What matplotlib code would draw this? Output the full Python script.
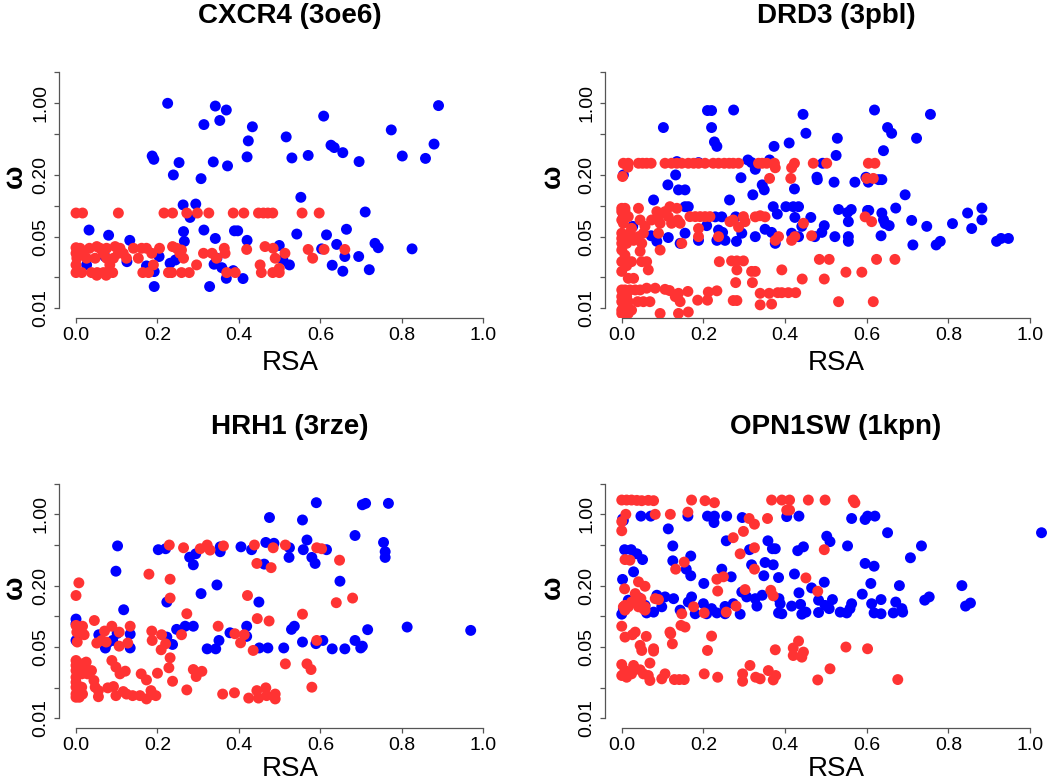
import matplotlib
matplotlib.use("Agg")
import matplotlib.pyplot as plt

plt.rcParams['font.family'] = ['Liberation Sans', 'DejaVu Sans']

titles = ["CXCR4 (3oe6)", "DRD3 (3pbl)", "HRH1 (3rze)", "OPN1SW (1kpn)"]
x_ticks = [0.0, 0.2, 0.4, 0.6, 0.8, 1.0]
x_tick_labels = ["0.0", "0.2", "0.4", "0.6", "0.8", "1.0"]
y_ticks = [0.01, 0.02, 0.05, 0.1, 0.2, 0.5, 1.0, 2.0]
y_tick_labels = ["0.01", "", "0.05", "", "0.20", "", "1.00", ""]
x_label = "RSA"
y_label = "ω"

# (RSA, omega) pairs per panel and group
cxcr4_blue = [(0.225, 1.0), (0.342, 0.94), (0.369, 0.86), (0.890, 0.95), (0.608, 0.75), (0.314, 0.62),
              (0.353, 0.68), (0.433, 0.59), (0.774, 0.55), (0.516, 0.47), (0.423, 0.43), (0.626, 0.39),
              (0.634, 0.37), (0.879, 0.40), (0.655, 0.33), (0.187, 0.306), (0.191, 0.284), (0.420, 0.30),
              (0.530, 0.293), (0.570, 0.31), (0.801, 0.306), (0.858, 0.29), (0.695, 0.27), (0.253, 0.264),
              (0.337, 0.268), (0.372, 0.245), (0.239, 0.20), (0.307, 0.184), (0.552, 0.121), (0.263, 0.102),
              (0.294, 0.104), (0.280, 0.077), (0.710, 0.087), (0.032, 0.058), (0.080, 0.0516), (0.264, 0.056),
              (0.314, 0.058), (0.389, 0.057), (0.397, 0.057), (0.664, 0.059), (0.542, 0.053), (0.615, 0.052),
              (0.132, 0.046), (0.266, 0.045), (0.342, 0.048), (0.420, 0.046), (0.499, 0.041), (0.640, 0.042),
              (0.734, 0.043), (0.742, 0.039), (0.825, 0.038), (0.603, 0.038), (0.660, 0.032), (0.694, 0.032),
              (0.026, 0.0265), (0.125, 0.0285), (0.204, 0.032), (0.231, 0.0275), (0.244, 0.0296), (0.173, 0.0259),
              (0.192, 0.0228), (0.339, 0.0269), (0.346, 0.0308), (0.358, 0.0249), (0.508, 0.0296), (0.524, 0.0265),
              (0.629, 0.0263), (0.655, 0.023), (0.720, 0.0238), (0.386, 0.0233), (0.369, 0.0196), (0.410, 0.0195),
              (0.192, 0.0163), (0.328, 0.0163), (0.071, 0.032)]
cxcr4_red = [(0.0, 0.085), (0.016, 0.085), (0.104, 0.085), (0.216, 0.085), (0.237, 0.085), (0.272, 0.085),
             (0.298, 0.085), (0.326, 0.085), (0.386, 0.085), (0.412, 0.085), (0.448, 0.085), (0.460, 0.085),
             (0.471, 0.085), (0.483, 0.085), (0.555, 0.085), (0.597, 0.085),
             (0.0, 0.039), (0.010, 0.0385), (0.033, 0.0385), (0.051, 0.040), (0.059, 0.0385), (0.075, 0.0385),
             (0.096, 0.040), (0.108, 0.0385), (0.141, 0.0385), (0.161, 0.0385), (0.173, 0.0385), (0.205, 0.0385),
             (0.237, 0.040), (0.247, 0.0385), (0.259, 0.037), (0.364, 0.0385), (0.419, 0.0375), (0.464, 0.040),
             (0.484, 0.0385), (0.570, 0.0375), (0.609, 0.0375), (0.660, 0.0375),
             (0.0, 0.0344), (0.018, 0.0344), (0.067, 0.0344), (0.104, 0.0344), (0.116, 0.0344), (0.186, 0.0344),
             (0.255, 0.0344), (0.313, 0.0344), (0.334, 0.0344), (0.366, 0.0344), (0.513, 0.0344),
             (0.002, 0.0308), (0.026, 0.0308), (0.047, 0.0308), (0.075, 0.0308), (0.092, 0.0308), (0.124, 0.0308),
             (0.153, 0.0308), (0.264, 0.0308), (0.345, 0.0308), (0.489, 0.0308), (0.581, 0.0308),
             (0.0, 0.0265), (0.083, 0.0265), (0.190, 0.0265), (0.452, 0.0265), (0.296, 0.0265),
             (0.0, 0.0223), (0.014, 0.0223), (0.038, 0.0223), (0.052, 0.0223), (0.067, 0.0223), (0.075, 0.0223),
             (0.090, 0.0223), (0.164, 0.0223), (0.178, 0.0223), (0.227, 0.0223), (0.235, 0.0223), (0.259, 0.0223),
             (0.278, 0.0223), (0.370, 0.0223), (0.391, 0.0223), (0.455, 0.0223), (0.483, 0.0223), (0.499, 0.0223),
             (0.051, 0.021), (0.074, 0.021), (0.499, 0.0245)]

drd3_blue = [(0.210, 0.85), (0.220, 0.85), (0.274, 0.86), (0.444, 0.78), (0.619, 0.86), (0.756, 0.78),
             (0.102, 0.58), (0.220, 0.58), (0.451, 0.51), (0.651, 0.58), (0.661, 0.51), (0.722, 0.456),
             (0.528, 0.456), (0.227, 0.42), (0.233, 0.38), (0.373, 0.38), (0.410, 0.41), (0.525, 0.31),
             (0.641, 0.345), (0.309, 0.28), (0.318, 0.264), (0.327, 0.227), (0.362, 0.28), (0.492, 0.26),
             (0.135, 0.27), (0.188, 0.264), (0.004, 0.20), (0.132, 0.20), (0.113, 0.16), (0.292, 0.188),
             (0.139, 0.143), (0.155, 0.143), (0.478, 0.19), (0.479, 0.18), (0.520, 0.17), (0.571, 0.17),
             (0.598, 0.19), (0.604, 0.17), (0.629, 0.18), (0.637, 0.18), (0.344, 0.16), (0.349, 0.143),
             (0.321, 0.128), (0.423, 0.146), (0.694, 0.128), (0.264, 0.114), (0.078, 0.114), (0.155, 0.098),
             (0.163, 0.098), (0.371, 0.098), (0.402, 0.098), (0.420, 0.098), (0.433, 0.098), (0.381, 0.083),
             (0.531, 0.092), (0.562, 0.092), (0.553, 0.086), (0.671, 0.095), (0.602, 0.09), (0.605, 0.09),
             (0.637, 0.085), (0.641, 0.073), (0.645, 0.067), (0.847, 0.085), (0.857, 0.06), (0.882, 0.073),
             (0.882, 0.095), (0.810, 0.067), (0.710, 0.072), (0.747, 0.063), (0.655, 0.064), (0.463, 0.077),
             (0.424, 0.077), (0.496, 0.064), (0.555, 0.07), (0.229, 0.078), (0.245, 0.078), (0.279, 0.078),
             (0.004, 0.078), (0.027, 0.063), (0.072, 0.051), (0.086, 0.045), (0.114, 0.049),
             (0.143, 0.043), (0.155, 0.054), (0.188, 0.046), (0.208, 0.064), (0.237, 0.058), (0.247, 0.055),
             (0.233, 0.046), (0.253, 0.046), (0.281, 0.045), (0.294, 0.054), (0.327, 0.05), (0.351, 0.059),
             (0.367, 0.055), (0.376, 0.043), (0.416, 0.054), (0.433, 0.05), (0.441, 0.063), (0.473, 0.05),
             (0.490, 0.055), (0.522, 0.05), (0.555, 0.05), (0.555, 0.045), (0.635, 0.051), (0.713, 0.0415),
             (0.770, 0.0415), (0.780, 0.045), (0.918, 0.045), (0.929, 0.048), (0.947, 0.048)]
drd3_red = [(0.004, 0.26), (0.016, 0.26), (0.041, 0.26), (0.051, 0.26), (0.061, 0.26), (0.072, 0.26),
            (0.106, 0.26), (0.122, 0.26), (0.135, 0.26), (0.147, 0.26), (0.163, 0.26), (0.176, 0.26),
            (0.188, 0.26), (0.204, 0.26), (0.224, 0.26), (0.237, 0.26), (0.251, 0.26), (0.263, 0.26),
            (0.273, 0.26), (0.286, 0.26), (0.335, 0.26), (0.344, 0.26), (0.355, 0.26), (0.374, 0.26),
            (0.423, 0.26), (0.469, 0.26), (0.502, 0.26), (0.604, 0.26), (0.620, 0.26),
            (0.015, 0.238), (0.376, 0.235), (0.416, 0.235),
            (0.002, 0.193), (0.362, 0.185), (0.414, 0.185), (0.600, 0.185), (0.616, 0.185),
            (0.0, 0.0945), (0.008, 0.0945), (0.0, 0.088), (0.008, 0.088), (0.0, 0.0727), (0.004, 0.0675),
            (0.016, 0.0784), (0.024, 0.0603), (0.041, 0.0945), (0.045, 0.0727), (0.057, 0.063), (0.073, 0.0727),
            (0.086, 0.0877), (0.090, 0.0784), (0.094, 0.0675), (0.106, 0.0877), (0.114, 0.0784), (0.118, 0.098),
            (0.122, 0.0675), (0.135, 0.0945), (0.137, 0.0727), (0.143, 0.0675),
            (0.167, 0.0784), (0.180, 0.0784), (0.192, 0.0784), (0.204, 0.0784), (0.216, 0.0784),
            (0.265, 0.070), (0.273, 0.0727), (0.286, 0.062), (0.298, 0.0784), (0.302, 0.070),
            (0.327, 0.078), (0.339, 0.080), (0.351, 0.078), (0.445, 0.0675), (0.596, 0.078), (0.612, 0.070),
            (0.0, 0.054), (0.0, 0.048), (0.0, 0.043), (0.008, 0.05), (0.012, 0.043), (0.020, 0.054),
            (0.029, 0.046), (0.041, 0.05), (0.053, 0.054), (0.049, 0.043), (0.090, 0.054), (0.188, 0.06),
            (0.188, 0.05), (0.147, 0.043), (0.237, 0.05), (0.376, 0.046), (0.384, 0.05), (0.416, 0.046),
            (0.424, 0.05), (0.465, 0.051), (0.094, 0.037),
            (0.0, 0.037), (0.008, 0.033), (0.0, 0.0285), (0.012, 0.026), (0.0, 0.0229), (0.024, 0.0285),
            (0.016, 0.0196), (0.029, 0.0196), (0.045, 0.036), (0.049, 0.0285), (0.061, 0.0285), (0.065, 0.0237),
            (0.239, 0.0285), (0.269, 0.029), (0.282, 0.029), (0.298, 0.029), (0.282, 0.0237), (0.318, 0.0229),
            (0.327, 0.0229), (0.392, 0.0237), (0.484, 0.030), (0.508, 0.030), (0.624, 0.030), (0.669, 0.030),
            (0.549, 0.0225), (0.588, 0.0225), (0.442, 0.0193), (0.496, 0.0193), (0.279, 0.0178), (0.320, 0.0178),
            (0.0, 0.0151), (0.008, 0.0151), (0.020, 0.0151), (0.033, 0.0151), (0.045, 0.0151), (0.0, 0.013),
            (0.012, 0.013), (0.0, 0.0116), (0.016, 0.0116), (0.0, 0.0096), (0.008, 0.0096), (0.024, 0.0096),
            (0.0, 0.0089), (0.016, 0.0089), (0.039, 0.0116), (0.053, 0.0116), (0.069, 0.0116), (0.061, 0.0157),
            (0.082, 0.0157), (0.106, 0.0153), (0.117, 0.0149), (0.131, 0.013), (0.139, 0.014), (0.143, 0.0116),
            (0.162, 0.0146), (0.139, 0.0089), (0.163, 0.0092), (0.094, 0.0089), (0.186, 0.012), (0.210, 0.012),
            (0.212, 0.0144), (0.233, 0.0148), (0.273, 0.0119), (0.282, 0.0119), (0.339, 0.014), (0.339, 0.0108),
            (0.361, 0.014), (0.367, 0.011), (0.382, 0.0142), (0.392, 0.0142), (0.408, 0.0142), (0.426, 0.0142),
            (0.531, 0.0116), (0.616, 0.0116)]

hrh1_blue = [(0.590, 1.30), (0.703, 1.24), (0.711, 1.28), (0.767, 1.28), (0.475, 0.93), (0.556, 0.88),
             (0.685, 0.62), (0.567, 0.56), (0.755, 0.53), (0.759, 0.43), (0.759, 0.378), (0.102, 0.49),
             (0.202, 0.45), (0.220, 0.46), (0.279, 0.38), (0.294, 0.41), (0.288, 0.32), (0.354, 0.48),
             (0.354, 0.43), (0.405, 0.48), (0.431, 0.45), (0.466, 0.53), (0.486, 0.52), (0.524, 0.47),
             (0.523, 0.378), (0.558, 0.45), (0.579, 0.378), (0.587, 0.33), (0.615, 0.45), (0.462, 0.325),
             (0.098, 0.277), (0.346, 0.203), (0.648, 0.221), (0.307, 0.167), (0.223, 0.138), (0.449, 0.138),
             (0.117, 0.116), (0.0, 0.094), (0.0, 0.085), (0.268, 0.080), (0.288, 0.080), (0.247, 0.0745),
             (0.419, 0.080), (0.536, 0.080), (0.529, 0.0745), (0.716, 0.074), (0.813, 0.0785), (0.969, 0.0728),
             (0.378, 0.069), (0.419, 0.0636), (0.056, 0.066), (0.101, 0.068), (0.133, 0.067), (0.0, 0.058),
             (0.090, 0.058), (0.223, 0.0626), (0.237, 0.053), (0.072, 0.0489), (0.077, 0.0547), (0.133, 0.049),
             (0.322, 0.048), (0.343, 0.048), (0.351, 0.058), (0.450, 0.049), (0.471, 0.049), (0.510, 0.049),
             (0.556, 0.056), (0.589, 0.054), (0.606, 0.058), (0.629, 0.048), (0.660, 0.048), (0.685, 0.058),
             (0.699, 0.049), (0.703, 0.051)]
hrh1_red = [(0.007, 0.213), (0.0, 0.16), (0.179, 0.259), (0.231, 0.231), (0.231, 0.151), (0.229, 0.50),
            (0.264, 0.47), (0.305, 0.46), (0.322, 0.50), (0.329, 0.446), (0.362, 0.49), (0.438, 0.50),
            (0.484, 0.47), (0.514, 0.50), (0.591, 0.47), (0.603, 0.46), (0.647, 0.355), (0.444, 0.33),
            (0.479, 0.30), (0.421, 0.16), (0.639, 0.136), (0.679, 0.151), (0.556, 0.105), (0.272, 0.106),
            (0.445, 0.095), (0.474, 0.09), (0.349, 0.080), (0.045, 0.091),
            (0.0, 0.0815), (0.010, 0.0785), (0.016, 0.080), (0.002, 0.070), (0.003, 0.056), (0.020, 0.066),
            (0.051, 0.0547), (0.063, 0.058), (0.070, 0.0717), (0.088, 0.080), (0.106, 0.051), (0.106, 0.070),
            (0.127, 0.0547), (0.133, 0.080), (0.074, 0.056), (0.186, 0.0717), (0.187, 0.058), (0.210, 0.066),
            (0.209, 0.047), (0.220, 0.0538), (0.259, 0.066), (0.390, 0.0675), (0.404, 0.055), (0.413, 0.066),
            (0.435, 0.0463), (0.591, 0.058),
            (0.0, 0.0369), (0.0, 0.033), (0.0, 0.0294), (0.0, 0.0253), (0.0, 0.0226), (0.0, 0.0202),
            (0.0, 0.0173), (0.0, 0.0161), (0.014, 0.0342), (0.014, 0.0273), (0.014, 0.0202), (0.025, 0.0356),
            (0.026, 0.0294), (0.028, 0.0273), (0.038, 0.0294), (0.044, 0.0235), (0.047, 0.0202), (0.055, 0.0187),
            (0.055, 0.0163), (0.016, 0.0173), (0.008, 0.0161), (0.088, 0.0369), (0.098, 0.0318), (0.108, 0.0273),
            (0.121, 0.029), (0.078, 0.0199), (0.092, 0.0205), (0.098, 0.0167), (0.116, 0.0183), (0.124, 0.0173),
            (0.139, 0.0167), (0.157, 0.0167), (0.160, 0.0273), (0.173, 0.0155), (0.173, 0.0238), (0.184, 0.0187),
            (0.186, 0.0171), (0.196, 0.0167), (0.200, 0.0277), (0.231, 0.0392), (0.228, 0.0313), (0.237, 0.0231),
            (0.272, 0.019), (0.288, 0.0301), (0.295, 0.0257), (0.309, 0.0289), (0.360, 0.0173), (0.389, 0.0178),
            (0.424, 0.0158), (0.444, 0.0187), (0.448, 0.0158), (0.466, 0.0199), (0.468, 0.0167), (0.489, 0.0173),
            (0.489, 0.0155), (0.514, 0.0342), (0.567, 0.0342), (0.577, 0.0301), (0.579, 0.0202)]

opn1sw_blue = [(1.028, 0.66), (0.004, 0.87), (0.002, 0.90), (0.047, 0.96), (0.071, 0.96), (0.162, 0.96),
               (0.210, 0.96), (0.227, 0.96), (0.226, 0.83), (0.257, 0.96), (0.295, 0.93), (0.404, 0.95),
               (0.434, 0.96), (0.563, 0.91), (0.596, 0.89), (0.602, 0.96), (0.620, 0.96), (0.114, 0.72),
               (0.651, 0.66), (0.256, 0.55), (0.358, 0.55), (0.125, 0.49), (0.125, 0.35), (0.369, 0.46),
               (0.376, 0.46), (0.313, 0.45), (0.169, 0.39), (0.431, 0.44), (0.445, 0.48), (0.502, 0.61),
               (0.510, 0.54), (0.553, 0.49), (0.734, 0.49), (0.707, 0.375), (0.007, 0.45), (0.023, 0.45),
               (0.037, 0.41), (0.051, 0.36), (0.029, 0.273), (0.002, 0.23), (0.351, 0.337), (0.371, 0.32),
               (0.318, 0.32), (0.245, 0.29), (0.268, 0.244), (0.158, 0.29), (0.169, 0.25), (0.348, 0.25),
               (0.384, 0.24), (0.423, 0.26), (0.496, 0.216), (0.596, 0.33), (0.618, 0.31), (0.465, 0.19),
               (0.610, 0.21), (0.680, 0.20), (0.833, 0.20), (0.201, 0.21), (0.589, 0.165), (0.434, 0.17),
               (0.742, 0.144), (0.753, 0.155), (0.842, 0.126), (0.854, 0.135),
               (0.0, 0.105), (0.004, 0.119), (0.016, 0.144), (0.041, 0.153), (0.057, 0.128), (0.061, 0.108),
               (0.078, 0.110), (0.086, 0.161), (0.098, 0.124), (0.106, 0.155), (0.127, 0.149), (0.143, 0.115),
               (0.163, 0.138), (0.171, 0.155), (0.180, 0.106), (0.200, 0.133), (0.208, 0.106), (0.220, 0.119),
               (0.233, 0.108), (0.253, 0.125), (0.273, 0.133), (0.290, 0.105), (0.294, 0.173), (0.306, 0.155),
               (0.327, 0.149), (0.331, 0.126), (0.344, 0.161), (0.385, 0.149), (0.388, 0.133), (0.384, 0.108),
               (0.392, 0.106), (0.416, 0.126), (0.438, 0.131), (0.441, 0.105), (0.451, 0.110), (0.482, 0.144),
               (0.482, 0.109), (0.498, 0.128), (0.508, 0.119), (0.516, 0.146), (0.535, 0.110), (0.551, 0.108),
               (0.559, 0.119), (0.563, 0.133), (0.612, 0.133), (0.618, 0.108), (0.635, 0.146), (0.635, 0.106),
               (0.665, 0.108), (0.671, 0.138), (0.686, 0.119), (0.688, 0.110), (0.253, 0.106)]
opn1sw_red = [(0.0, 1.38), (0.012, 1.38), (0.024, 1.38), (0.037, 1.37), (0.049, 1.36), (0.065, 1.37),
              (0.078, 1.36), (0.171, 1.38), (0.204, 1.36), (0.227, 1.30), (0.367, 1.38), (0.392, 1.38),
              (0.411, 1.38), (0.457, 1.38), (0.498, 1.38), (0.567, 1.38), (0.571, 1.30),
              (0.010, 1.0), (0.0, 0.85), (0.0, 0.69), (0.082, 1.0), (0.119, 1.0), (0.162, 1.05),
              (0.404, 1.10), (0.411, 1.10), (0.312, 0.91), (0.325, 0.80), (0.357, 0.91), (0.273, 0.59),
              (0.298, 0.68), (0.290, 0.41), (0.325, 0.47), (0.496, 0.45), (0.008, 0.36), (0.020, 0.355),
              (0.153, 0.34), (0.132, 0.29), (0.325, 0.29), (0.041, 0.218), (0.057, 0.197), (0.233, 0.231),
              (0.249, 0.244), (0.451, 0.238), (0.480, 0.176), (0.235, 0.177), (0.302, 0.183), (0.365, 0.18),
              (0.371, 0.159), (0.007, 0.186), (0.008, 0.128), (0.082, 0.149), (0.090, 0.146), (0.033, 0.167),
              (0.047, 0.149), (0.038, 0.133), (0.057, 0.124), (0.057, 0.115), (0.004, 0.124), (0.008, 0.115),
              (0.016, 0.124), (0.024, 0.138), (0.041, 0.124), (0.053, 0.119), (0.147, 0.106), (0.176, 0.124),
              (0.202, 0.108), (0.256, 0.11), (0.280, 0.126),
              (0.0, 0.080), (0.008, 0.0626), (0.026, 0.066), (0.033, 0.070), (0.045, 0.0519), (0.049, 0.0463),
              (0.078, 0.0481), (0.078, 0.0456), (0.060, 0.0636), (0.118, 0.070), (0.120, 0.0675), (0.124, 0.0538),
              (0.145, 0.0815), (0.155, 0.0785), (0.220, 0.064), (0.210, 0.0463), (0.376, 0.047), (0.420, 0.0489),
              (0.433, 0.0572), (0.420, 0.0413), (0.441, 0.0398), (0.445, 0.0446), (0.549, 0.050), (0.602, 0.0481),
              (0.0, 0.0337), (0.008, 0.0294), (0.0, 0.0263), (0.012, 0.0253), (0.024, 0.0273), (0.029, 0.033),
              (0.045, 0.0299), (0.053, 0.0273), (0.065, 0.0263), (0.069, 0.0235), (0.069, 0.0348), (0.098, 0.0244),
              (0.106, 0.0273), (0.129, 0.024), (0.141, 0.024), (0.153, 0.024), (0.202, 0.0273), (0.235, 0.0253),
              (0.296, 0.0273), (0.296, 0.0231), (0.314, 0.033), (0.328, 0.0253), (0.339, 0.0244), (0.359, 0.0294),
              (0.371, 0.0238), (0.377, 0.0263), (0.480, 0.0238), (0.510, 0.0306), (0.676, 0.024)]

panel_blue = [cxcr4_blue, drd3_blue, hrh1_blue, opn1sw_blue]
panel_red = [cxcr4_red, drd3_red, hrh1_red, opn1sw_red]

BLUE = '#0000FF'
RED = '#FF3333'
AXCOL = '#555555'

fig = plt.figure(figsize=(10.5, 7.81), dpi=100)
positions = [
    [0.0561, 0.5932, 0.4399, 0.3261],
    [0.5758, 0.5932, 0.4410, 0.3261],
    [0.0561, 0.0682, 0.4399, 0.3246],
    [0.5758, 0.0682, 0.4410, 0.3246],
]
omega_x = [-0.096, -0.111, -0.096, -0.111]
xlabel_pad = [4, 4, 1, 1]

for pos, title, blue, red, ox, lp in zip(positions, titles, panel_blue, panel_red, omega_x, xlabel_pad):
    ax = fig.add_axes(pos)
    ax.set_yscale('log')
    bx = [p[0] for p in blue]
    by = [p[1] for p in blue]
    rx = [p[0] for p in red]
    ry = [p[1] for p in red]
    ax.scatter(bx, by, s=62, c=BLUE, edgecolors='none', zorder=2)
    ax.scatter(rx, ry, s=62, c=RED, edgecolors='none', zorder=3)
    ax.set_xlim(-0.042, 1.092)
    ax.set_ylim(10 ** -2.092, 10 ** 0.393)
    ax.set_xticks(x_ticks)
    ax.set_xticklabels(x_tick_labels)
    ax.set_yticks(y_ticks)
    ax.set_yticklabels(y_tick_labels, rotation=90, va='center')
    ax.minorticks_off()
    for s in ['top', 'right']:
        ax.spines[s].set_visible(False)
    ax.spines['left'].set_bounds(0.01, 2.0)
    ax.spines['bottom'].set_bounds(0.0, 1.0)
    for s in ['left', 'bottom']:
        ax.spines[s].set_color(AXCOL)
        ax.spines[s].set_linewidth(0.9)
    ax.tick_params(axis='both', direction='out', length=3.8, width=0.9, color=AXCOL,
                   labelsize=14, labelcolor='black')
    ax.tick_params(axis='x', pad=3)
    ax.tick_params(axis='y', pad=3)
    ax.set_xlabel(x_label, fontsize=20, labelpad=lp)
    ax.text(ox, 0.555, y_label, transform=ax.transAxes, rotation=90,
            ha='center', va='center', fontsize=20, fontweight='bold')
    ax.set_title(title, fontsize=20, fontweight='bold', pad=29)
    ax.patch.set_alpha(0)

fig.savefig('out.png', dpi=100)
